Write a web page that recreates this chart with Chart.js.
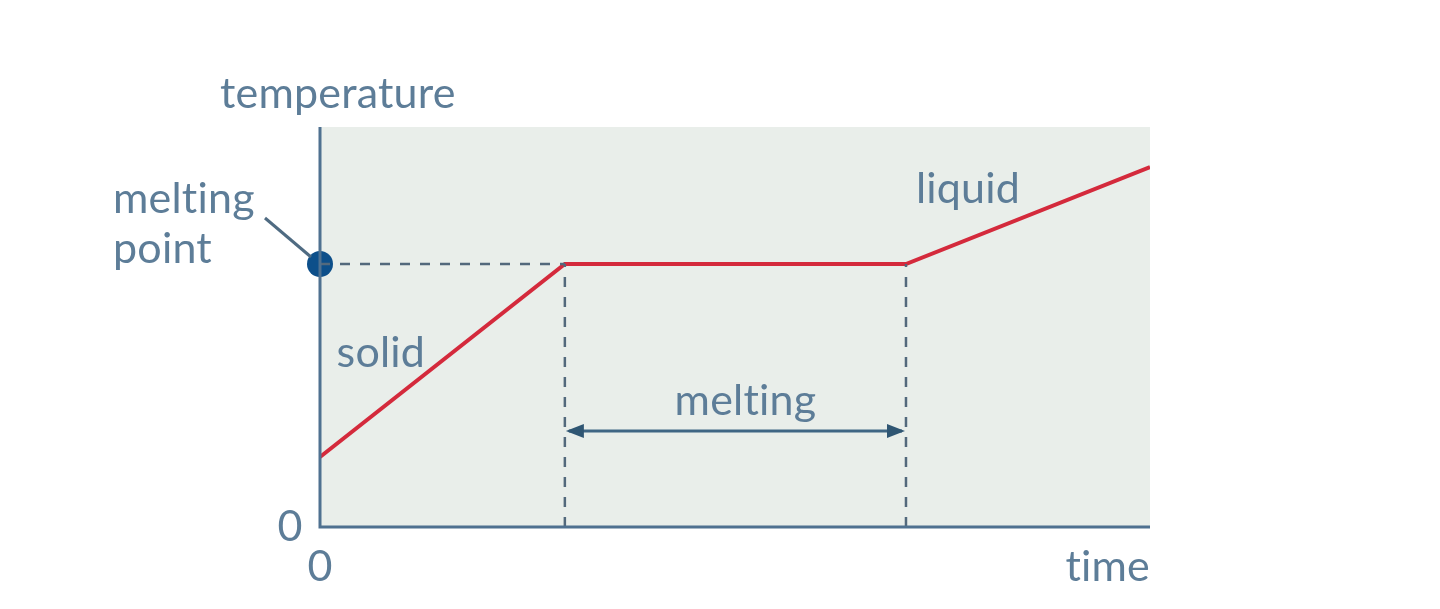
<!DOCTYPE html>
<html>
<head>
<meta charset="utf-8">
<script src="https://cdn.jsdelivr.net/npm/chart.js@4/dist/chart.umd.min.js"></script>
<style>
  html, body { margin: 0; padding: 0; background: #ffffff; }
  #wrap { width: 1440px; height: 609px; }
</style>
</head>
<body>
<div id="wrap"><canvas id="heatingChart"></canvas></div>
<script>
// heating curve: time (x) vs temperature (y), both 0..100
const timePoints = [0, 29.5, 70.6, 100];
const tempPoints = [17.5, 65.75, 65.75, 90];
const meltStart = 29.5;
const meltEnd = 70.6;
const meltingPoint = 65.75;
const axisMax = 100;

const textColor = "#5d7d98";
const axisColor = "#4f7190";
const dashColor = "#53697c";
const lineColor = "#d42a3c";
const fontName = "Lato, 'Open Sans', sans-serif";

const curve = timePoints.map((t, i) => ({ x: t, y: tempPoints[i] }));

// draws background, axes, arrow and labels around the data
const decorPlugin = {
  id: "decor",
  beforeDatasetsDraw(chart) {
    const { ctx, chartArea: a } = chart;
    ctx.save();
    ctx.fillStyle = "#e9eeea";
    ctx.fillRect(a.left, a.top, a.right - a.left, a.bottom - a.top);
    ctx.restore();
  },
  afterDatasetsDraw(chart) {
    const { ctx, chartArea: a, scales } = chart;
    const xs = scales.x, ys = scales.y;
    ctx.save();

    // axes
    ctx.strokeStyle = axisColor;
    ctx.lineWidth = 3;
    ctx.beginPath();
    ctx.moveTo(a.left, a.top);
    ctx.lineTo(a.left, a.bottom);
    ctx.lineTo(a.right, a.bottom);
    ctx.stroke();

    // melting arrow
    const ay = ys.getPixelForValue(24);
    const ax1 = xs.getPixelForValue(meltStart);
    const ax2 = xs.getPixelForValue(meltEnd);
    ctx.strokeStyle = "#3f6684";
    ctx.fillStyle = "#2f5673";
    ctx.lineWidth = 3;
    ctx.beginPath();
    ctx.moveTo(ax1 + 4, ay);
    ctx.lineTo(ax2 - 4, ay);
    ctx.stroke();
    ctx.beginPath();
    ctx.moveTo(ax1 + 1, ay);
    ctx.lineTo(ax1 + 19, ay - 7);
    ctx.lineTo(ax1 + 19, ay + 7);
    ctx.closePath();
    ctx.fill();
    ctx.beginPath();
    ctx.moveTo(ax2 - 1, ay);
    ctx.lineTo(ax2 - 19, ay - 7);
    ctx.lineTo(ax2 - 19, ay + 7);
    ctx.closePath();
    ctx.fill();

    // leader line to melting point
    const mpY = ys.getPixelForValue(meltingPoint);
    ctx.strokeStyle = "#4f6b82";
    ctx.lineWidth = 3;
    ctx.beginPath();
    ctx.moveTo(a.left - 55, mpY - 46);
    ctx.lineTo(a.left - 9, mpY - 7);
    ctx.stroke();

    // labels
    ctx.fillStyle = textColor;
    ctx.font = "43px " + fontName;
    ctx.letterSpacing = "0.2px";
    ctx.textBaseline = "alphabetic";
    ctx.textAlign = "left";
    ctx.fillText("temperature", a.left - 100, a.top - 19);
    ctx.fillText("melting", a.left - 207, mpY - 51);
    ctx.fillText("point", a.left - 207, mpY - 1);
    ctx.fillText("solid", xs.getPixelForValue(2), ys.getPixelForValue(40));
    ctx.fillText("liquid", xs.getPixelForValue(71.8), ys.getPixelForValue(81));
    ctx.textAlign = "center";
    ctx.fillText("melting", (ax1 + ax2) / 2 + 10, ay - 16);
    ctx.fillText("0", a.left - 30, a.bottom + 14);
    ctx.fillText("0", a.left, a.bottom + 54);
    ctx.textAlign = "right";
    ctx.fillText("time", a.right, a.bottom + 54);

    ctx.restore();
  }
};

const dashStyle = {
  showLine: true,
  borderColor: dashColor,
  borderWidth: 2.5,
  borderDash: [10, 10],
  pointRadius: 0,
};

const ctx = document.getElementById("heatingChart").getContext("2d");
const heatingChart = new Chart(ctx, {
  type: "scatter",
  data: {
    datasets: [
      // horizontal dashed guide to melting point
      { ...dashStyle, data: [{ x: 0, y: meltingPoint }, { x: meltStart, y: meltingPoint }] },
      { ...dashStyle, data: [{ x: meltStart, y: 0 }, { x: meltStart, y: meltingPoint }] },
      { ...dashStyle, data: [{ x: meltEnd, y: 0 }, { x: meltEnd, y: meltingPoint }] },
      {
        label: "temperature",
        data: curve,
        showLine: true,
        borderColor: lineColor,
        borderWidth: 4,
        pointRadius: 0,
        tension: 0,
      },
      {
        // melting point marker
        data: [{ x: 0, y: meltingPoint }],
        pointRadius: 13,
        pointBackgroundColor: "#0d4f8a",
        pointBorderWidth: 0,
        clip: false,
      },
    ],
  },
  options: {
    responsive: true,
    maintainAspectRatio: false,
    animation: false,
    layout: {
      padding: { left: 320, right: 290, top: 127, bottom: 82 },
    },
    plugins: {
      legend: { display: false },
      tooltip: { enabled: false },
    },
    scales: {
      x: { type: "linear", min: 0, max: axisMax, display: false },
      y: { type: "linear", min: 0, max: axisMax, display: false },
    },
  },
  plugins: [decorPlugin],
});
</script>
</body>
</html>
